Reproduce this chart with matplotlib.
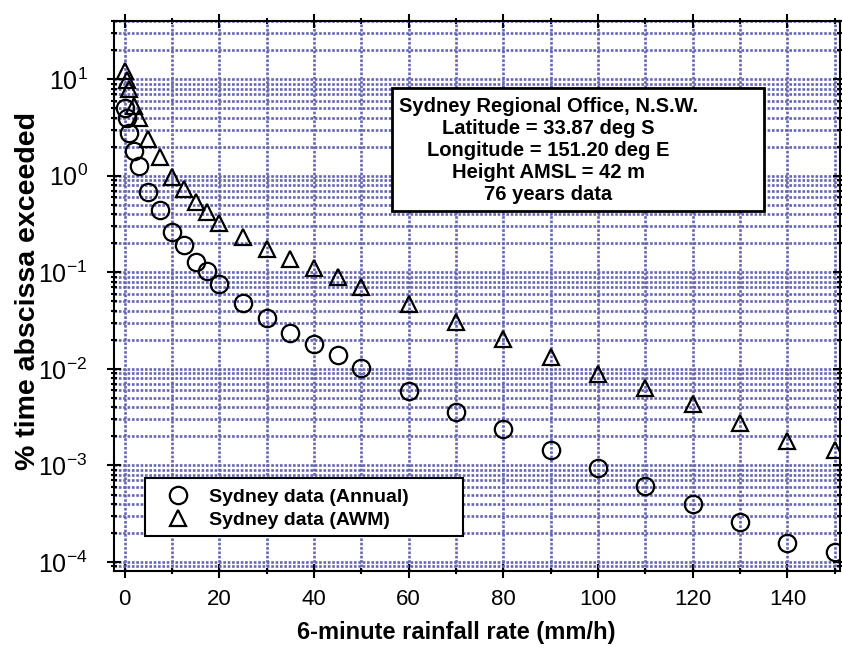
import numpy as np
import matplotlib; matplotlib.use('Agg')
import matplotlib.pyplot as plt
from matplotlib.ticker import LogLocator, MultipleLocator, NullFormatter, LogFormatterMathtext
from matplotlib.patches import Rectangle

plt.rcParams['font.family'] = ['Liberation Sans', 'DejaVu Sans']
plt.rcParams['mathtext.default'] = 'regular'

# rainfall rate (mm/h) and % time exceeded
rate = [0, 0.5, 1, 2, 3, 5, 7.5, 10, 12.5, 15, 17.5, 20, 25, 30, 35, 40, 45, 50,
        60, 70, 80, 90, 100, 110, 120, 130, 140, 150]
annual = [5.0, 3.95, 2.76, 1.80, 1.26, 0.676, 0.44, 0.261, 0.191, 0.128, 0.103, 0.0755,
          0.048, 0.0336, 0.0235, 0.0181, 0.0139, 0.0102, 0.0059, 0.00357, 0.00238,
          0.00144, 0.00094, 0.00061, 0.000398, 0.00026, 0.000157, 0.000127]
awm = [12.1, 9.8, 7.9, 5.25, 3.95, 2.39, 1.56, 0.97, 0.727, 0.533, 0.42, 0.323,
       0.231, 0.174, 0.137, 0.110, 0.089, 0.070, 0.0469, 0.0305, 0.0203, 0.0132,
       0.0088, 0.0063, 0.0043, 0.00275, 0.00179, 0.00144]
labels = ['Sydney data (Annual)', 'Sydney data (AWM)']
info = 'Sydney Regional Office, N.S.W.\nLatitude = 33.87 deg S\nLongitude = 151.20 deg E\nHeight AMSL = 42 m\n76 years data'

GRID = '#6666b3'
W, H = 842, 648
fig = plt.figure(figsize=(W/100, H/100), dpi=100)
ax = fig.add_axes([114/W, 77/H, 726/W, 550/H])

ax.plot(rate, annual, 'o', ms=12.5, mfc='none', mec='black', mew=1.6, zorder=4, label=labels[0])
ax.plot(rate, awm, '^', ms=11, mfc='none', mec='black', mew=1.6, zorder=4, label=labels[1])

ax.set_yscale('log')
ax.set_xlim(-2.24, 151.1)
ax.set_ylim(8.07e-5, 40)
ax.xaxis.set_major_locator(MultipleLocator(20))
ax.xaxis.set_minor_locator(MultipleLocator(10))
ax.yaxis.set_major_locator(LogLocator(base=10, numticks=20))
ax.yaxis.set_minor_locator(LogLocator(base=10, subs=np.arange(2, 10), numticks=20))
ax.yaxis.set_major_formatter(LogFormatterMathtext())
ax.yaxis.set_minor_formatter(NullFormatter())

ax.grid(which='both', color=GRID, ls=(0, (1, 0.65)), lw=1.9, zorder=1)
ax.set_axisbelow(True)
for s in ax.spines.values():
    s.set_linewidth(1.5)
ax.tick_params(which='both', direction='inout', top=True, right=True, width=1.5)
ax.tick_params(which='major', length=10)
ax.tick_params(which='minor', length=5)
ax.tick_params(axis='x', pad=8, labelsize=16)
ax.tick_params(axis='y', pad=14, labelsize=18)

ax.set_xlabel('6-minute rainfall rate (mm/h)', fontsize=17, fontweight='bold')
ax.xaxis.set_label_coords(0.471, -0.09)
ax.set_ylabel('% time abscissa exceeded', fontsize=20.5, fontweight='bold')
ax.yaxis.set_label_coords(-0.1, 0.51)

# station info box
ax.add_patch(Rectangle((0.383, 0.6545), 0.512, 0.2235, transform=ax.transAxes,
                       fc='white', ec='black', lw=2, zorder=5))
ax.text(0.598, 0.765, info, transform=ax.transAxes, ha='center', va='center',
        multialignment='center', fontsize=14.5, fontweight='bold', linespacing=1.2, zorder=6)

# legend box
ax.add_patch(Rectangle((0.0427, 0.0636), 0.438, 0.1055, transform=ax.transAxes,
                       fc='white', ec='black', lw=1.5, zorder=5))
leg = ax.legend(loc='center left', bbox_to_anchor=(0.0748, 0.1136), frameon=False,
                borderpad=0, borderaxespad=0, handlelength=1.0, handletextpad=1.1,
                labelspacing=0.25, numpoints=1, prop={'size': 14, 'weight': 'bold'})
leg.set_zorder(6)

fig.savefig('out.png', dpi=100)
